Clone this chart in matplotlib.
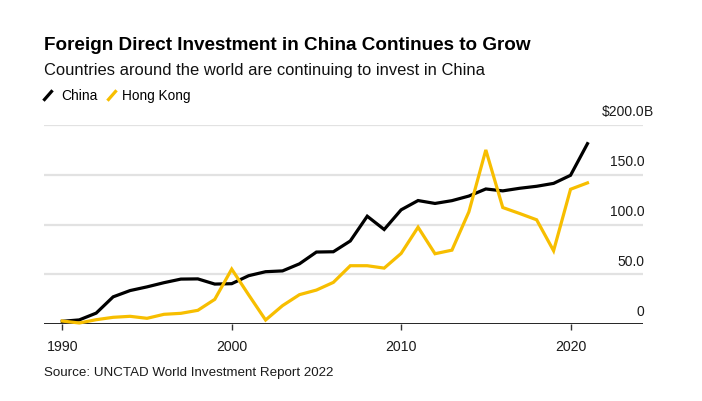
import matplotlib.pyplot as plt
from matplotlib.lines import Line2D

# --------------------------------------------
# DATA (FDI inflows, billions USD)
# --------------------------------------------
years = list(range(1990, 2022))
china = [3.0, 4.4, 11.2, 27.5, 33.8, 37.5, 41.7, 45.3, 45.5, 40.3,
         40.7, 48.7, 52.7, 53.5, 60.6, 72.4, 72.7, 83.5, 108.3, 95.0,
         114.7, 124.0, 121.1, 123.9, 128.5, 135.6, 133.7, 136.3, 138.3, 141.2,
         149.3, 181.0]
hong_kong = [3.3, 1.3, 4.6, 7.0, 8.0, 6.0, 10.0, 11.0, 14.0, 25.0,
             55.3, 29.5, 4.3, 18.7, 29.7, 34.3, 42.0, 58.7, 58.7, 56.3,
             71.0, 97.3, 70.7, 74.3, 112.7, 174.7, 117.0, 111.0, 104.7, 73.7,
             135.3, 141.7]
x_ticks = [1990, 2000, 2010, 2020]
y_ticks = [0, 50, 100, 150, 200]
y_labels = ["0", "50.0", "100.0", "150.0", "$200.0B"]

BLACK = "#000000"
YELLOW = "#F7BE00"
GRID = "#e2e2e2"
TXT = "#1a1a1a"

plt.rcParams['font.family'] = ['Liberation Sans', 'DejaVu Sans']

W, H = 702, 402
fig = plt.figure(figsize=(W / 100, H / 100), dpi=100)
ax = fig.add_axes([44 / W, (H - 325.3) / H, (642.7 - 44) / W, 199.6 / H])

ax.plot(years, china, color=BLACK, lw=2.3, solid_joinstyle='miter', clip_on=False, zorder=3)
ax.plot(years, hong_kong, color=YELLOW, lw=2.3, solid_joinstyle='miter', clip_on=False, zorder=3)

ax.set_xlim(1988.92, 2024.26)
ax.set_ylim(0, 200)

# gridlines
for v in y_ticks[1:]:
    ax.axhline(v, color=GRID, lw=1.6, zorder=1)
ax.axhline(0, color=BLACK, lw=1.2, zorder=2)

# y labels sit above the gridlines on the right
for v, lab in zip(y_ticks, y_labels):
    if lab.endswith("B"):
        ax.annotate(lab[:-1], xy=(1, v), xycoords=('axes fraction', 'data'),
                    xytext=(1.3, 9.8), textcoords='offset points',
                    ha='right', va='center', fontsize=10, color=TXT)
        ax.annotate("B", xy=(1, v), xycoords=('axes fraction', 'data'),
                    xytext=(0.6, 9.8), textcoords='offset points',
                    ha='left', va='center', fontsize=10, color=TXT)
    else:
        ax.annotate(lab, xy=(1, v), xycoords=('axes fraction', 'data'),
                    xytext=(1.3, 9.8), textcoords='offset points',
                    ha='right', va='center', fontsize=10, color=TXT)

ax.set_yticks([])
ax.set_xticks(x_ticks)
ax.set_xticklabels([str(x) for x in x_ticks], fontsize=10.2, color=TXT)
ax.tick_params(axis='x', length=4.5, width=1, color='#333333', pad=6)
for s in ax.spines.values():
    s.set_visible(False)

# --------------------------------------------
# HEADER + LEGEND + SOURCE
# --------------------------------------------
fig.text(44 / W, 1 - 45 / H, "Foreign Direct Investment in China Continues to Grow",
         fontsize=13.6, fontweight='bold', va='center', ha='left')
fig.text(44 / W, 1 - 70.5 / H, "Countries around the world are continuing to invest in China",
         fontsize=11.85, va='center', ha='left', color='#111111')

fig.add_artist(Line2D([44.5 / W, 51.5 / W], [1 - 100.5 / H, 1 - 92.5 / H],
                      color=BLACK, lw=2.3, transform=fig.transFigure))
fig.text(61 / W, 1 - 96 / H, "China", fontsize=10, va='center', ha='left')
fig.add_artist(Line2D([108.5 / W, 115.5 / W], [1 - 100.5 / H, 1 - 92.5 / H],
                      color=YELLOW, lw=2.3, transform=fig.transFigure))
fig.text(122 / W, 1 - 96 / H, "Hong Kong", fontsize=9.8, va='center', ha='left')

fig.text(44 / W, 1 - 373.5 / H, "Source: UNCTAD World Investment Report 2022",
         fontsize=9.6, va='center', ha='left', color=TXT)

fig.savefig("out.png", dpi=100)
plt.close(fig)
